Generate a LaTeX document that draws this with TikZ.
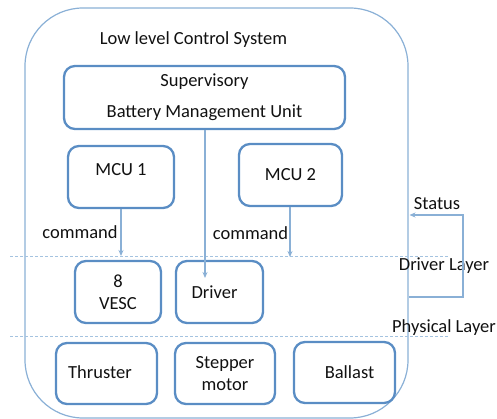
\documentclass[tikz,border=0pt]{standalone}
\usepackage{fontspec}
\setmainfont{Carlito}
\usetikzlibrary{arrows.meta}
\definecolor{boxline}{HTML}{5A8DC4}
\definecolor{paleline}{HTML}{8AB0D6}
\definecolor{layerline}{HTML}{A4C3E0}
\definecolor{labelink}{HTML}{111111}

\begin{document}
\begin{tikzpicture}[
  x=1pt,
  y=-1pt,
  every node/.style={font=\fontsize{18.5}{22}\selectfont, labelink},
  unit/.style={draw=boxline, line width=2.3pt, rounded corners=11pt,
               inner sep=0pt, align=center},
  frame/.style={draw=paleline, line width=1.2pt, rounded corners=58pt,
                inner sep=0pt},
  flow/.style={paleline, line width=1.2pt, -{Stealth[length=6pt,width=5pt]}},
  layer/.style={layerline, line width=1pt, dash pattern=on 3pt off 2pt}
]
  \useasboundingbox (0,0) rectangle (497,419);

  % ---- outer system frame -----------------------------------------------
  \node[frame, minimum width=383pt, minimum height=410pt] (system)
    at (216.5,213) {};
  \node (title) at (193.5,40) {Low level Control System};

  % ---- control units ------------------------------------------------------
  \node[unit, minimum width=281pt, minimum height=63pt] (bms) at (204.5,97.5)
    {Supervisory\\[9pt]Battery Management Unit};
  \node[unit, minimum width=106pt, minimum height=62pt] (mcu1) at (121,177) {};
  \node (mcu1text) at (121,170) {MCU 1};
  \node[unit, minimum width=103pt, minimum height=62pt] (mcu2) at (290.5,175)
    {MCU 2};

  % ---- driver layer -------------------------------------------------------
  \node[unit, minimum width=86pt, minimum height=62pt] (vesc) at (118,292)
    {8\\VESC};
  \node[unit, minimum width=87pt, minimum height=62pt] (driver) at (219.5,292)
    {};
  \node (drivertext) at (214.5,292) {Driver};

  % ---- physical layer -----------------------------------------------------
  \node[unit, minimum width=101pt, minimum height=61pt] (thruster)
    at (106.5,373.5) {};
  \node (thrustertext) at (100,372) {Thruster};
  \node[unit, minimum width=100pt, minimum height=61pt] (stepper)
    at (225,373.5) {Stepper\\motor};
  \node[unit, minimum width=101pt, minimum height=61pt] (ballast)
    at (344.5,372.5) {};
  \node (ballasttext) at (349.5,372) {Ballast};

  % ---- layer boundaries ---------------------------------------------------
  \draw[layer] (10,257) -- (448,257);
  \draw[layer] (10,336) -- (448,336);
  \node (driverlayer) at (444,266) {Driver Layer};
  \node (physlayer) at (444,328) {Physical Layer};

  % ---- commands -----------------------------------------------------------
  \coordinate (cmd1) at (121,256);
  \coordinate (cmd2) at (290,257);
  \coordinate (drvtip) at (205,278);
  \draw[flow] (mcu1.south) -- (cmd1);
  \draw[flow] (mcu2.south -| cmd2) -- (cmd2);
  \draw[flow] (bms.south -| drvtip) -- (drvtip);
  \node (cmdleft) at (80,232) {command};
  \node (cmdright) at (250.5,233) {command};

  % ---- status feedback ----------------------------------------------------
  \coordinate (stout) at (system.east |- 0,297);
  \coordinate (sttop) at (463,215);
  \coordinate (stin) at (409.5,215);
  \draw[flow] (stout) -| (sttop) -- (stin);
  \node (status) at (437,204) {Status};
\end{tikzpicture}
\end{document}
